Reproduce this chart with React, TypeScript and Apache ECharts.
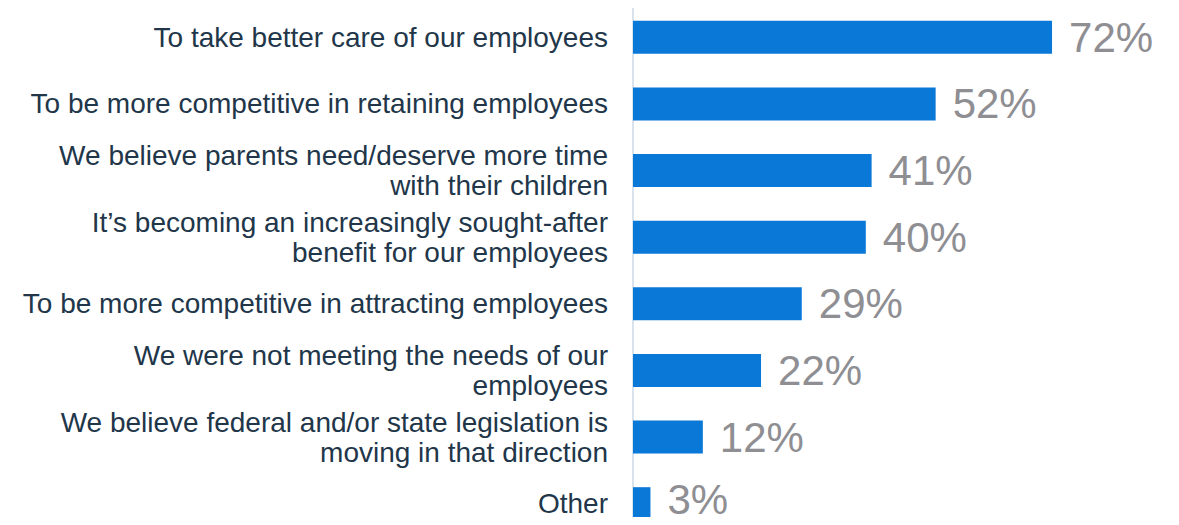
import React, { useEffect, useRef } from "react";
import * as echarts from "echarts";

const categories = [
  "To take better care of our employees",
  "To be more competitive in retaining employees",
  "We believe parents need/deserve more time\nwith their children",
  "It’s becoming an increasingly sought-after\nbenefit for our employees",
  "To be more competitive in attracting employees",
  "We were not meeting the needs of our\nemployees",
  "We believe federal and/or state legislation is\nmoving in that direction",
  "Other",
];
const values = [72, 52, 41, 40, 29, 22, 12, 3];

export default function App() {
  const ref = useRef<HTMLDivElement>(null);
  useEffect(() => {
    if (!ref.current) return;
    const chart = echarts.init(ref.current, null, { renderer: "svg" });
    const seriesData = values.map((v, i) =>
      i === values.length - 1 ? { value: v, label: { offset: [0, -4] } } : v
    );
    chart.setOption({
      animation: false,
      grid: { left: 633, top: 4, width: 582, height: 533, containLabel: false },
      xAxis: { type: "value", min: 0, max: 100, show: false },
      yAxis: {
        type: "category",
        data: categories,
        inverse: true,
        axisLine: { show: true, lineStyle: { color: "#D8E3EE", width: 2 } },
        axisTick: { show: false },
        splitLine: { show: false },
        axisLabel: {
          margin: 25,
          fontSize: 28,
          lineHeight: 30,
          color: "#22364A",
          fontFamily: "Liberation Sans, Arial, sans-serif",
          align: "right",
        },
      },
      series: [
        {
          type: "bar",
          data: seriesData,
          barWidth: 33,
          itemStyle: { color: "#0A78D7" },
          label: {
            show: true,
            position: "right",
            distance: 17,
            formatter: "{c}%",
            fontSize: 42,
            lineHeight: 36,
            color: "#8E8E93",
            fontFamily: "Liberation Sans, Arial, sans-serif",
          },
        },
      ],
    });
    return () => chart.dispose();
  }, []);
  return (
    <div style={{ width: 1179, height: 525, margin: -8, overflow: "hidden" }}>
      <div ref={ref} style={{ width: 1260, height: 550 }} />
    </div>
  );
}
